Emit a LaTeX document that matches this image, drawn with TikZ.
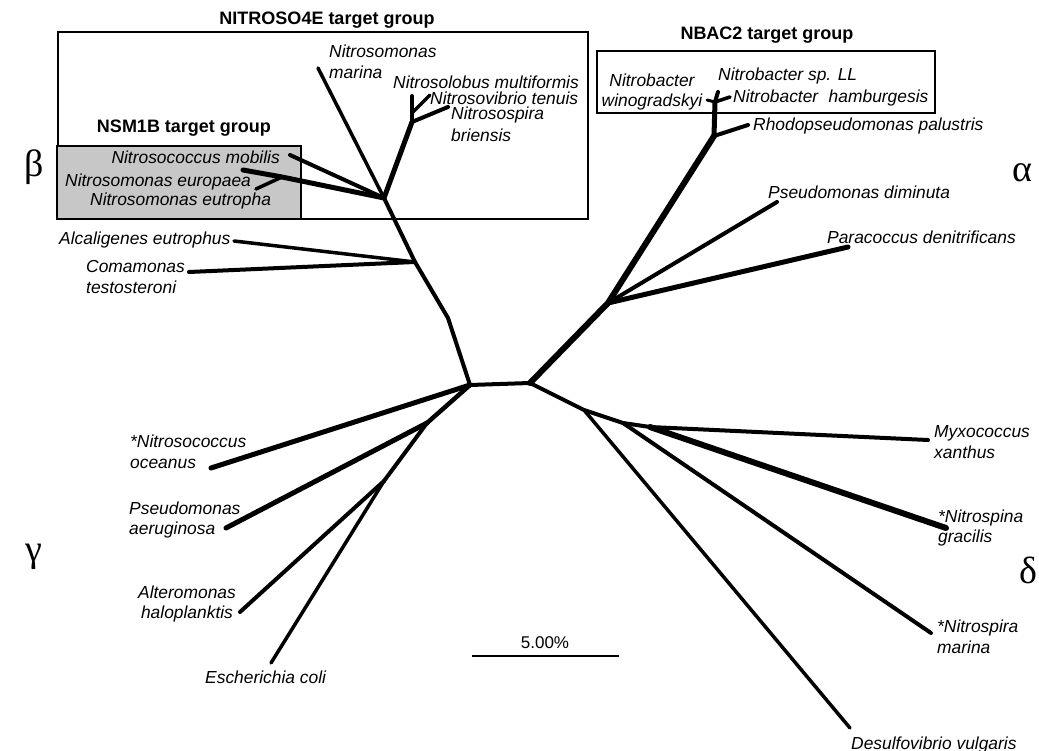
\documentclass[tikz,border=0pt]{standalone}
\usepackage{fontspec}
\newfontfamily\labfont{Liberation Sans}
\newfontfamily\grkfont{Liberation Serif}
\begin{document}
\begin{tikzpicture}[x=1pt,y=-1pt,
  br/.style={line width=#1, line cap=round, line join=round},
  lbl/.style={font={\labfont\itshape\fontsize{17.4}{20.5}\selectfont}, inner sep=0pt, anchor=west, align=left},
  grp/.style={font={\labfont\bfseries\fontsize{18}{21}\selectfont}, inner sep=0pt},
  grk/.style={font={\grkfont\fontsize{38}{40}\selectfont}, inner sep=0pt},
  boxline/.style={line width=2pt}]
\useasboundingbox (0,0) rectangle (1039,751);
\fill[white] (0,0) rectangle (1039,751);

% ---- boxes ----
\draw[boxline] (58,32) rectangle (588,219);
\draw[boxline, fill=black!22] (57,146) rectangle (301,219);
\draw[boxline] (597,51) rectangle (935,113);
\node[grp] (gNitroso) at (327,20) {NITROSO4E target group};
\node[grp] (gNsm) at (184,128) {NSM1B target group};
\node[grp] (gNbac) at (767,35) {NBAC2 target group};

% ---- internal coordinates ----
\coordinate (cL) at (470,385);
\coordinate (cR) at (530,383);
\coordinate (b1) at (448,318);
\coordinate (b2) at (415,262);
\coordinate (b3) at (384,198);
\coordinate (s1) at (412,122);
\coordinate (s2) at (412,113);
\coordinate (e1) at (282,177);
\coordinate (g1) at (427,423);
\coordinate (g2) at (384,481);
\coordinate (a1) at (608,303);
\coordinate (a2) at (714,136);
\coordinate (a3) at (715,102);
\coordinate (d1) at (584,410);
\coordinate (d2) at (623,423);
\coordinate (d3) at (650,427);

% ---- tips ----
\coordinate (tMar) at (318,68);
\coordinate (tAlc) at (234,241);
\coordinate (tCom) at (189,272);
\coordinate (tSpira) at (448,107);
\coordinate (tLobus) at (412,96);
\coordinate (tVibrio) at (430,95);
\coordinate (tMob) at (290,155);
\coordinate (tEur) at (243,170);
\coordinate (tEut) at (256,189);
\coordinate (tOce) at (211,468);
\coordinate (tAer) at (226,528);
\coordinate (tAlt) at (240,612);
\coordinate (tEco) at (271,663);
\coordinate (tDim) at (777,202);
\coordinate (tPar) at (848,247);
\coordinate (tRho) at (748,125);
\coordinate (tWin) at (707,100);
\coordinate (tHam) at (730,97);
\coordinate (tLL) at (718,92);
\coordinate (tDes) at (850,728);
\coordinate (tNsa) at (931,633);
\coordinate (tMyx) at (928,440);
\coordinate (tNsp) at (946,528);

% ---- branches ----
\draw[br=4] (cL) -- (cR);
% beta
\draw[br=4] (cL) -- (b1) -- (b2) -- (b3);
\draw[br=3.5] (b3) -- (tMar);
\draw[br=3.5] (b2) -- (tAlc);
\draw[br=4] (b2) -- (tCom);
\draw[br=5] (b3) -- (s1);
\draw[br=4] (s1) -- (tSpira);
\draw[br=4] (s1) -- (s2) -- (tLobus);
\draw[br=3.5] (s2) -- (tVibrio);
\draw[br=4] (b3) -- (tMob);
\draw[br=5] (b3) -- (e1) -- (tEur);
\draw[br=3.5] (e1) -- (tEut);
% gamma
\draw[br=5] (cL) -- (tOce);
\draw[br=4.5] (cL) -- (g1);
\draw[br=5] (g1) -- (tAer);
\draw[br=4] (g1) -- (g2);
\draw[br=4] (g2) -- (tAlt);
\draw[br=3.5] (g2) -- (tEco);
% alpha
\draw[br=6] (cR) -- (a1) -- (a2);
\draw[br=5] (a2) -- (a3);
\draw[br=4] (a1) -- (tDim);
\draw[br=5] (a1) -- (tPar);
\draw[br=4] (a2) -- (tRho);
\draw[br=3] (a3) -- (tWin);
\draw[br=3.5] (a3) -- (tHam);
\draw[br=4] (a3) -- (tLL);
% delta
\draw[br=4] (cR) -- (d1) -- (d2) -- (d3);
\draw[br=3.5] (d1) -- (tDes);
\draw[br=4] (d2) -- (tNsa);
\draw[br=4] (d3) -- (tMyx);
\draw[br=6] (d3) -- (tNsp);

% ---- scale bar ----
\coordinate (sbL) at (472,656);
\coordinate (sbR) at (619,656);
\draw[line width=1.5pt] (sbL) -- (sbR);
\node[font={\labfont\fontsize{17}{20}\selectfont}, inner sep=0pt] (sbLab) at (545,643) {5.00\%};

% ---- labels ----
\node[lbl] (lMar) at (329,62) {Nitrosomonas\\marina};
\node[lbl] (lLobus) at (393,82) {Nitrosolobus multiformis};
\node[lbl] (lVibrio) at (430,98) {Nitrosovibrio tenuis};
\node[lbl, font={\labfont\itshape\fontsize{17.4}{22}\selectfont}] (lSpira) at (451,124) {Nitrosospira\\briensis};
\node[lbl, anchor=east] (lMob) at (280,157) {Nitrosococcus mobilis};
\node[lbl] (lEur) at (65,182) {Nitrosomonas europaea};
\node[lbl] (lEut) at (90,201) {Nitrosomonas eutropha};
\node[lbl] (lAlc) at (59,240) {Alcaligenes eutrophus};
\node[lbl] (lCom) at (86,277) {Comamonas\\testosteroni};
\node[lbl, anchor=center, align=center] (lWin) at (652,92) {Nitrobacter\\winogradskyi};
\node[lbl] (lLL) at (718,76) {Nitrobacter sp. LL};
\node[lbl] (lHam) at (733,98) {Nitrobacter\hspace{0.6em}hamburgesis};
\node[lbl] (lRho) at (753,126) {Rhodopseudomonas palustris};
\node[lbl] (lDim) at (768,192) {Pseudomonas diminuta};
\node[lbl] (lPar) at (827,237) {Paracoccus denitrificans};
\node[lbl] (lMyx) at (934,442) {Myxococcus\\xanthus};
\node[lbl] (lNsp) at (938,528) {*Nitrospina\\gracilis};
\node[lbl] (lNsa) at (937,637) {*Nitrospira\\marina};
\node[lbl] (lDes) at (851,745) {Desulfovibrio vulgaris};
\node[lbl] (lOce) at (130,452) {*Nitrosococcus\\oceanus};
\node[lbl] (lAer) at (129,520) {Pseudomonas\\aeruginosa};
\node[lbl, align=center, anchor=center] (lAlt) at (187,604) {Alteromonas\\haloplanktis};
\node[lbl] (lEco) at (205,677) {Escherichia coli};

% ---- greek ----
\node[grk] (beta) at (34,167) {β};
\node[grk] (alpha) at (1022,173) {α};
\node[grk] (gamma) at (34,557) {γ};
\node[grk] (delta) at (1028,570) {δ};
\end{tikzpicture}
\end{document}
